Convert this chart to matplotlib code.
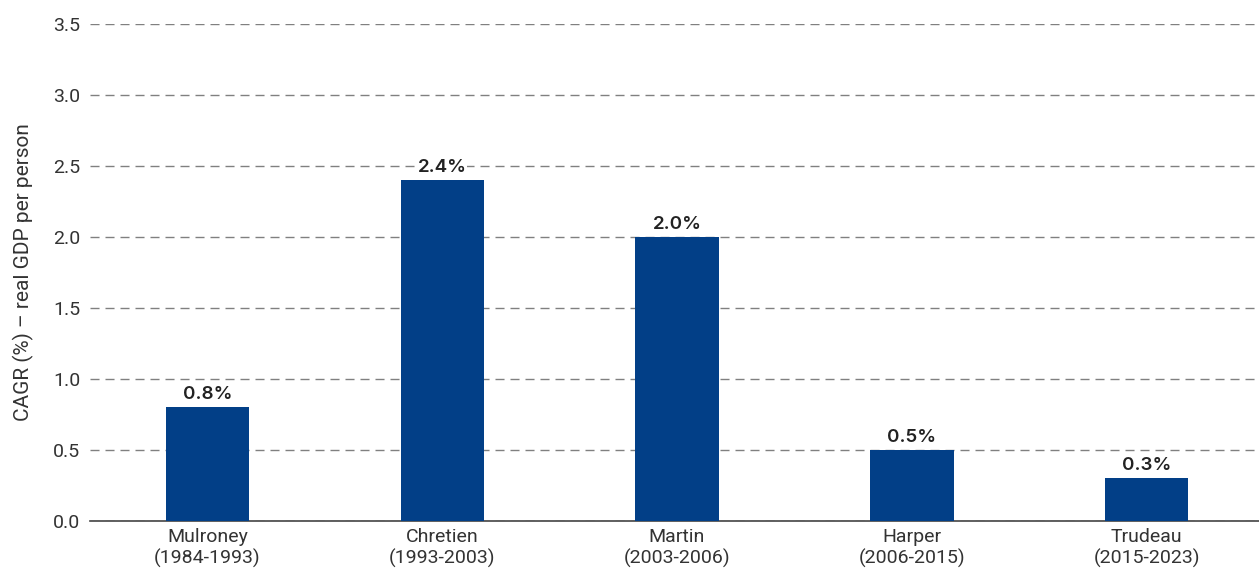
import matplotlib.pyplot as plt

leaders = ['Mulroney\n(1984-1993)', 'Chretien\n(1993-2003)', 'Martin\n(2003-2006)',
           'Harper\n(2006-2015)', 'Trudeau\n(2015-2023)']
cagr = [0.8, 2.4, 2.0, 0.5, 0.3]
yticks = [0.0, 0.5, 1.0, 1.5, 2.0, 2.5, 3.0, 3.5]

plt.rcParams['font.family'] = ['Roboto', 'DejaVu Sans']

fig = plt.figure(figsize=(12.59, 5.75), dpi=100)
ax = fig.add_axes([0.0715, 0.094, 0.9325, 0.864])

x = range(len(leaders))
ax.bar(x, cagr, width=0.355, color='#023f87', zorder=3)
for i, v in enumerate(cagr):
    ax.annotate('%.1f%%' % v, (i, v), xytext=(0, 5.8), textcoords='offset points',
                ha='center', va='baseline', fontsize=13.5, fontweight='semibold',
                family=['Inter', 'DejaVu Sans'], color='#222222', zorder=4,
                bbox=dict(facecolor='white', edgecolor='none', pad=0.5))

ax.set_xlim(-0.5, len(leaders) - 0.5)
ax.set_ylim(0, 3.5)
ax.set_yticks(yticks)
ax.set_yticklabels(['%.1f' % t for t in yticks])
ax.set_xticks(list(x))
ax.set_xticklabels(leaders)
ax.yaxis.grid(True, linestyle=(0, (6.5, 4.3)), color='#808080', linewidth=1.0, zorder=0)
ax.tick_params(axis='both', length=0, labelsize=14, labelcolor='#333333')
ax.tick_params(axis='y', pad=7)
ax.tick_params(axis='x', pad=5)
for s in ['top', 'right', 'left']:
    ax.spines[s].set_visible(False)
ax.spines['bottom'].set_color('#444444')
ax.spines['bottom'].set_linewidth(1.2)
ax.set_ylabel('CAGR (%) – real GDP per person', fontsize=15, color='#333333', labelpad=14)

fig.savefig('out.png', dpi=100)
